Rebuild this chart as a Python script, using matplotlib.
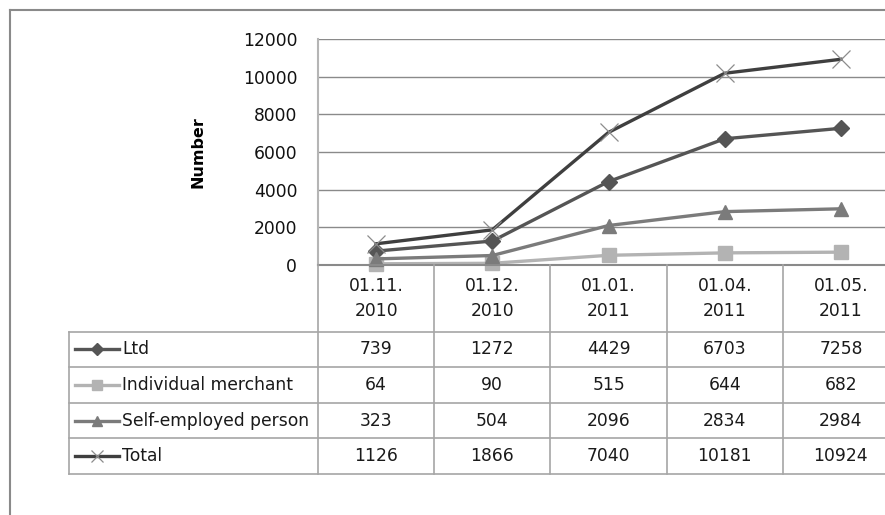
import matplotlib.pyplot as plt
from matplotlib.lines import Line2D

plt.rcParams['font.family'] = ['DejaVu Sans']

dates = ['01.11.\n2010', '01.12.\n2010', '01.01.\n2011', '01.04.\n2011', '01.05.\n2011']
series_names = ['Ltd', 'Individual merchant', 'Self-employed person', 'Total']
ltd = [739, 1272, 4429, 6703, 7258]
individual = [64, 90, 515, 644, 682]
self_employed = [323, 504, 2096, 2834, 2984]
total = [1126, 1866, 7040, 10181, 10924]
yticks = [0, 2000, 4000, 6000, 8000, 10000, 12000]

values = [ltd, individual, self_employed, total]
colors = ['#555555', '#b3b3b3', '#7b7b7b', '#3f3f3f']
markers = ['D', 's', '^', 'x']
msizes = [8.5, 10.5, 10.5, 13]

W, H = 885, 515
fig = plt.figure(figsize=(W / 100, H / 100), dpi=100)

def px(x0, y0, x1, y1):
    # pixel box -> figure fraction rect
    return [x0 / W, 1 - y1 / H, (x1 - x0) / W, (y1 - y0) / H]

# outer chart border
border = fig.add_axes(px(10, 10, 900, 530))
border.set_xticks([])
border.set_yticks([])
for s in border.spines.values():
    s.set_color('#8a8a8a')
    s.set_linewidth(1.5)
border.patch.set_alpha(0)

fs = 12.3

# main plot
ax = fig.add_axes(px(318, 39, 899, 265))
ax.set_xlim(-0.5, 4.5)
ax.set_ylim(0, 12000)
ax.set_yticks(yticks)
ax.set_yticklabels([str(v) for v in yticks], fontsize=fs, color='#111111')
ax.tick_params(axis='y', length=0, pad=15)
ax.set_xticks([])
ax.yaxis.grid(True, color='#8a8a8a', linewidth=1)
ax.set_axisbelow(True)
for k in ['top', 'right', 'bottom']:
    ax.spines[k].set_visible(False)
ax.spines['left'].set_color('#b5b5b5')
ax.spines['left'].set_linewidth(1.5)
ax.set_ylabel('Number', fontsize=11.5, fontweight='bold', labelpad=27)
ax.patch.set_alpha(0)

xs = range(len(dates))
for vals, c, m, ms in zip(values, colors, markers, msizes):
    if m == 'x':
        ax.plot(xs, vals, color=c, lw=2.4, zorder=3, clip_on=False)
        ax.plot(xs, vals, ls='none', marker='x', ms=ms, mec='#8c8c8c',
                mew=0.9, zorder=4, clip_on=False)
    else:
        ax.plot(xs, vals, color=c, lw=2.4, marker=m, ms=ms, mfc=c, mec=c,
                zorder=3, clip_on=False)

# data table
hdr = 66.7 / 35.6
left_units = (318 - 69) / 116.2
tab = fig.add_axes(px(69, 265, 899, 474))
tab.set_xlim(-0.5 - left_units, 4.5)
tab.set_ylim(4, -hdr)
tab.axis('off')
gc = '#a6a6a6'
xl = -0.5 - left_units
tab.plot([-0.5, 4.5], [-hdr, -hdr], color='#8a8a8a', lw=1.5, clip_on=False)
for r in range(5):
    tab.plot([xl, 4.5], [r, r], color=gc, lw=1.2, clip_on=False)
tab.plot([xl, xl], [0, 4], color=gc, lw=1.2, clip_on=False)
for c in range(5):
    tab.plot([c - 0.5, c - 0.5], [-hdr, 4], color=gc, lw=1.2, clip_on=False)
for i, d in enumerate(dates):
    tab.text(i, -hdr / 2, d, ha='center', va='center', fontsize=fs,
             color='#1a1a1a', linespacing=1.5)
for r, (name, vals, c, m, ms) in enumerate(zip(series_names, values, colors, markers, msizes)):
    yc = r + 0.5
    kx0 = xl + 6 / 116.2
    kx1 = xl + 50 / 116.2
    tab.add_line(Line2D([kx0, kx1], [yc, yc], color=c, lw=2.4))
    if m == 'x':
        tab.plot([(kx0 + kx1) / 2], [yc], marker='x', ms=9, mec='#8c8c8c', mew=0.9)
    else:
        tab.plot([(kx0 + kx1) / 2], [yc], marker=m, ms=ms * 0.7, mfc=c, mec=c)
    tab.text(xl + 53 / 116.2, yc, name, ha='left', va='center', fontsize=fs,
             color='#1a1a1a')
    for i, v in enumerate(vals):
        tab.text(i, yc, str(v), ha='center', va='center', fontsize=fs,
                 color='#1a1a1a')

fig.savefig('out.png', dpi=100)
